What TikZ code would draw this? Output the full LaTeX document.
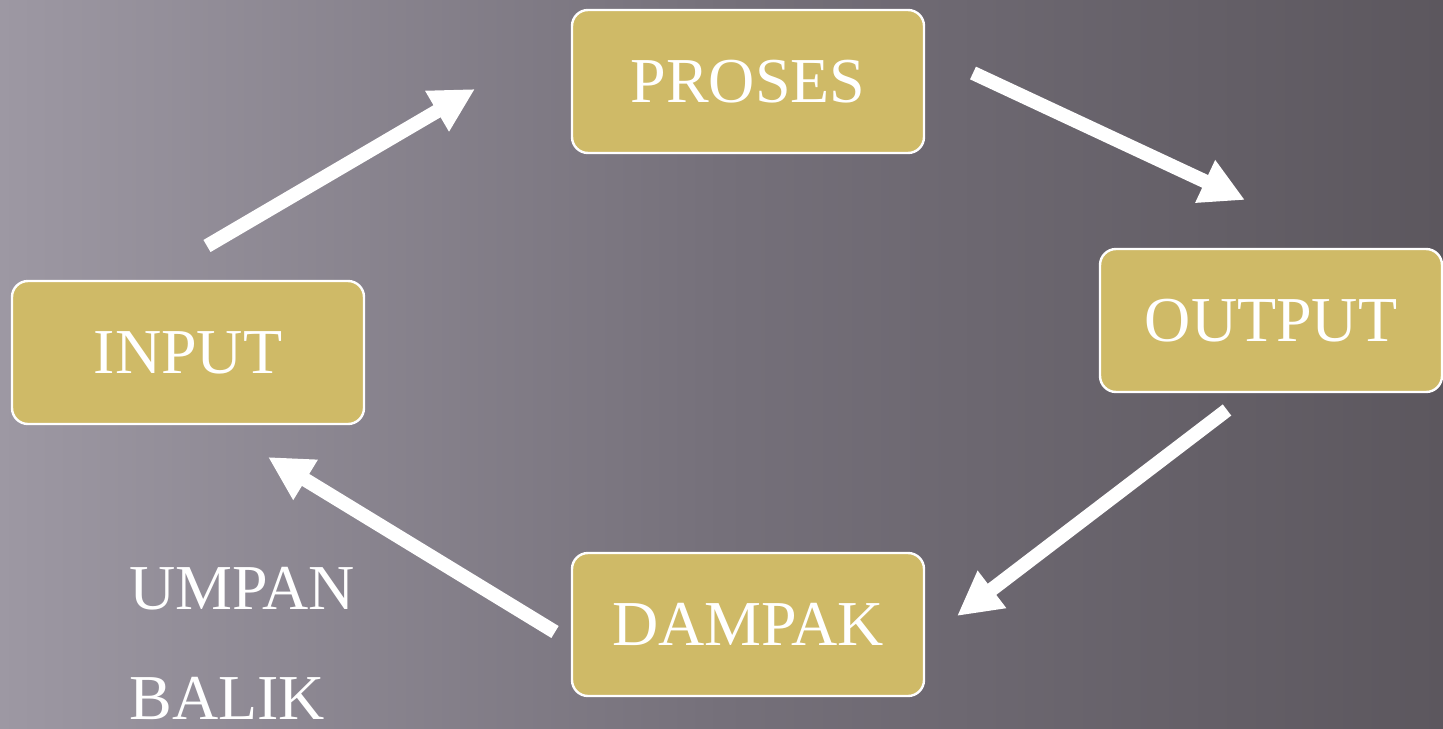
\documentclass[tikz,border=0pt]{standalone}
\usepackage{fontspec}
\setmainfont{Liberation Serif}
\usetikzlibrary{arrows.meta}
\definecolor{boxgold}{HTML}{CFBA67}
\definecolor{bgleft}{HTML}{9D98A3}
\definecolor{bgmid}{HTML}{75707A}
\definecolor{bgright}{HTML}{5C575E}
\tikzset{
  stepbox/.style={draw=white, line width=1.2pt, fill=boxgold, rounded corners=8pt,
    minimum width=176pt, minimum height=71.5pt, text=white, font=\fontsize{32}{36}\selectfont, inner sep=0pt},
  flow/.style={draw=white, line width=7pt, -{Triangle[width=22pt,length=22pt]}},
  lbl/.style={text=white, font=\fontsize{32}{36}\selectfont, anchor=base west, inner sep=0pt}
}
\begin{document}
\begin{tikzpicture}[x=0.5pt,y=-0.5pt]
\useasboundingbox (0,0) rectangle (1443,728);
% background
\shade[left color=bgleft, right color=bgright, middle color=bgmid, shading angle=90] (0,0) rectangle (1443,728);
% boxes
\node[stepbox] (proses) at (748,81.5) {PROSES};
\node[stepbox] (input) at (188,352.5) {INPUT};
\node[stepbox, minimum width=171pt] (output) at (1271,320.5) {OUTPUT};
\node[stepbox] (dampak) at (748,624.5) {DAMPAK};
% arrow end points
\coordinate (a1s) at (207,246);
\coordinate (a1e) at (475,89);
\coordinate (a2s) at (973,73);
\coordinate (a2e) at (1245,200);
\coordinate (a3s) at (1227,410);
\coordinate (a3e) at (957,616);
\coordinate (a4s) at (555,632);
\coordinate (a4e) at (268,457);
\draw[flow] (a1s) -- (a1e);
\draw[flow] (a2s) -- (a2e);
\draw[flow] (a3s) -- (a3e);
\draw[flow] (a4s) -- (a4e);
% labels
\node[lbl] (umpan) at (129,609) {UMPAN};
\node[lbl] (balik) at (129,719) {BALIK};
\end{tikzpicture}
\end{document}
